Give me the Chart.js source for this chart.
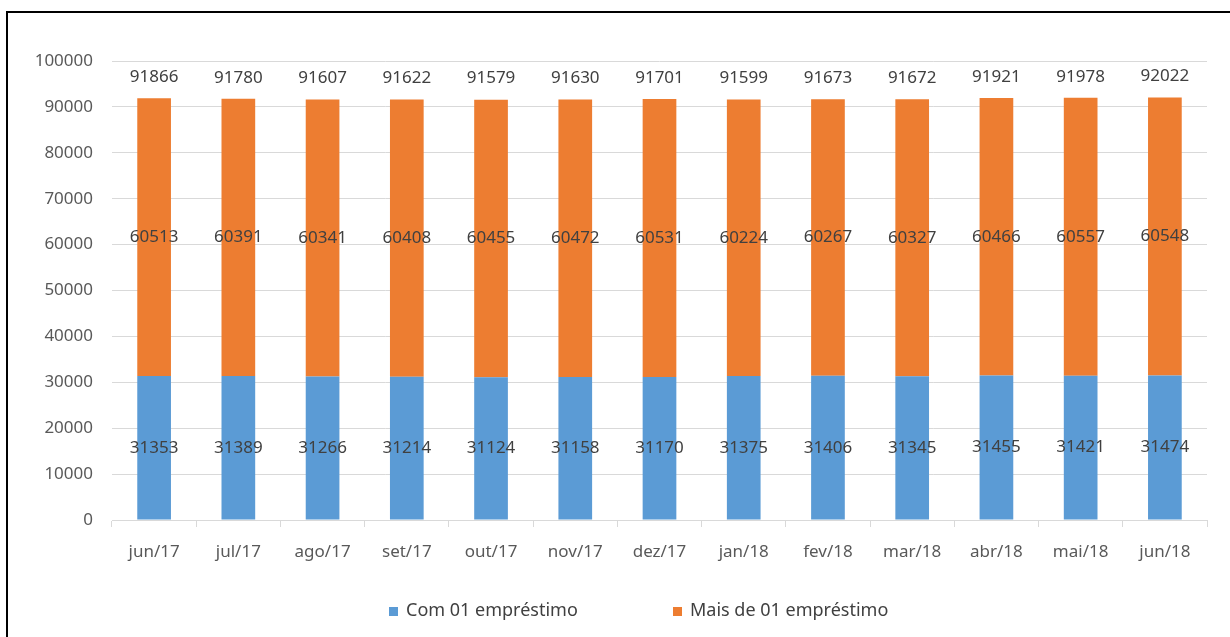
<!DOCTYPE html>
<html>
<head>
<meta charset="utf-8">
<script src="https://cdn.jsdelivr.net/npm/chart.js@4.4.1/dist/chart.umd.min.js"></script>
<style>
  html, body { margin: 0; padding: 0; background: #fff; overflow: hidden; }
  #wrap { position: relative; width: 1230px; height: 637px; }
  #frame { position: absolute; left: 6px; top: 11px; width: 1300px; height: 700px; border: 2px solid #000; box-sizing: border-box; }
  canvas { position: absolute; left: 0; top: 0; }
</style>
</head>
<body>
<div id="wrap">
  <div id="frame"></div>
  <canvas id="c" width="1230" height="637"></canvas>
</div>
<script>
const categories = ["jun/17","jul/17","ago/17","set/17","out/17","nov/17","dez/17","jan/18","fev/18","mar/18","abr/18","mai/18","jun/18"];
const comUm = [31353,31389,31266,31214,31124,31158,31170,31375,31406,31345,31455,31421,31474];
const maisDeUm = [60513,60391,60341,60408,60455,60472,60531,60224,60267,60327,60466,60557,60548];
const totals = [91866,91780,91607,91622,91579,91630,91701,91599,91673,91672,91921,91978,92022];
const seriesNames = ["Com 01 empréstimo","Mais de 01 empréstimo"];
const colors = ["#5B9BD5","#ED7D31"];
const FONT = "'Noto Sans', 'DejaVu Sans', sans-serif";

const labelPlugin = {
  id: 'labels',
  afterDatasetsDraw(chart) {
    const ctx = chart.ctx;
    ctx.save();
    ctx.font = "17px " + FONT;
    ctx.fillStyle = "#404040";
    ctx.textAlign = "center";
    ctx.textBaseline = "middle";
    chart.data.datasets.forEach((ds, di) => {
      const meta = chart.getDatasetMeta(di);
      meta.data.forEach((bar, i) => {
        const mid = (bar.y + bar.base) / 2;
        ctx.fillText(String(ds.data[i]), bar.x, mid);
      });
    });
    const top = chart.getDatasetMeta(1);
    top.data.forEach((bar, i) => {
      ctx.fillText(String(totals[i]), bar.x, bar.y - 21);
    });
    // legend
    ctx.font = "18px " + FONT;
    ctx.textAlign = "left";
    const items = [{x: 389, c: colors[0], t: seriesNames[0]}, {x: 673, c: colors[1], t: seriesNames[1]}];
    items.forEach(it => {
      ctx.fillStyle = it.c;
      ctx.fillRect(it.x, 607, 9, 9);
      ctx.fillStyle = "#404040";
      ctx.fillText(it.t, it.x + 17, 611);
    });
    ctx.restore();
  }
};

new Chart(document.getElementById('c'), {
  type: 'bar',
  data: {
    labels: categories,
    datasets: [
      { label: seriesNames[0], data: comUm, backgroundColor: colors[0], barPercentage: 0.8, categoryPercentage: 0.5 },
      { label: seriesNames[1], data: maisDeUm, backgroundColor: colors[1], barPercentage: 0.8, categoryPercentage: 0.5 }
    ]
  },
  options: {
    responsive: false,
    animation: false,
    devicePixelRatio: 1,
    layout: { padding: { left: 0, right: 23, top: 61, bottom: 0 } },
    plugins: { legend: { display: false }, tooltip: { enabled: false } },
    scales: {
      x: {
        stacked: true,
        afterFit(s) { s.height = 117; },
        grid: { display: true, drawOnChartArea: false, drawTicks: true, tickLength: 7, color: "#D9D9D9", offset: true },
        border: { display: true, color: "#D9D9D9", width: 1 },
        ticks: { color: "#595959", font: { family: FONT, size: 17 }, padding: 15, maxRotation: 0 }
      },
      y: {
        stacked: true,
        min: 0, max: 100000,
        afterFit(s) { s.width = 112; },
        grid: { color: "#D9D9D9", drawTicks: false, lineWidth: 1 },
        border: { display: false },
        ticks: { stepSize: 10000, color: "#595959", font: { family: FONT, size: 17 }, padding: 19, callback: v => String(v) }
      }
    }
  },
  plugins: [labelPlugin]
});
</script>
</body>
</html>
